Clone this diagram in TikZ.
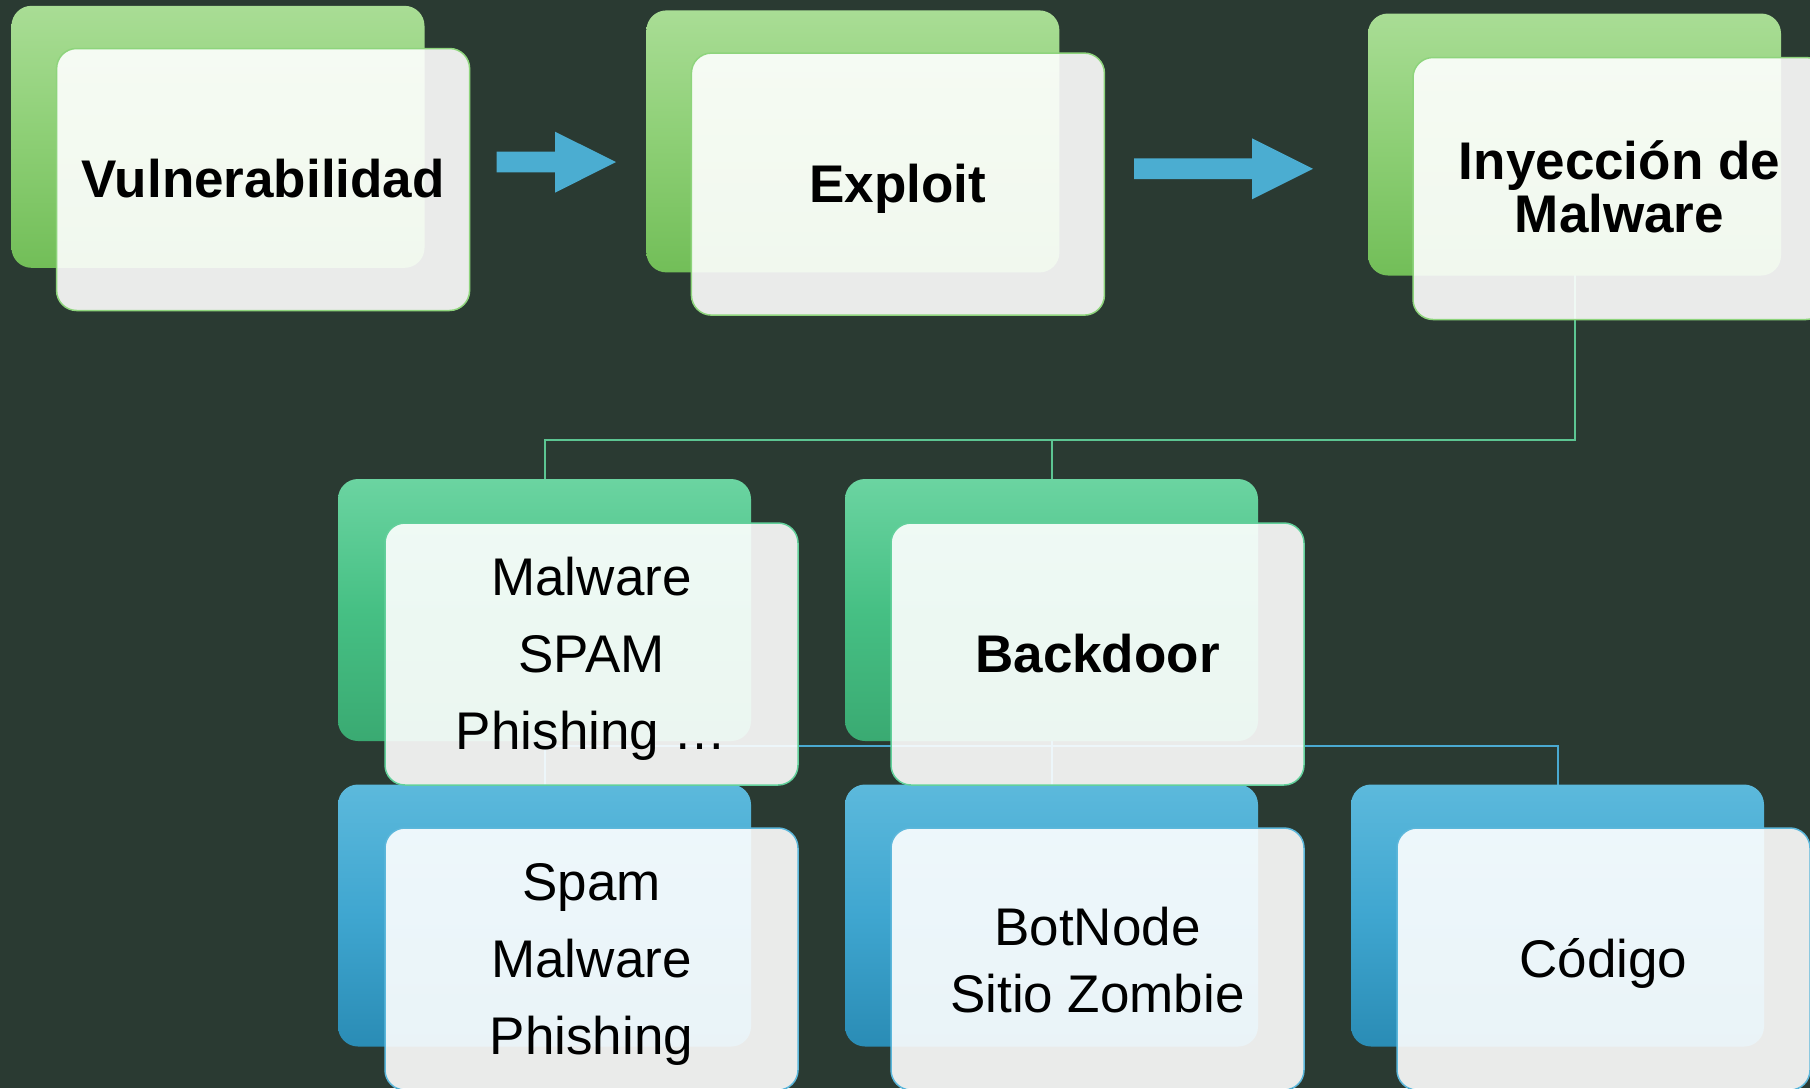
\documentclass[tikz,border=0pt]{standalone}
\usepackage{fontspec}
\setmainfont{Liberation Sans}
\definecolor{bgc}{HTML}{2A3A32}
\definecolor{gatop}{HTML}{A9DD95}
\definecolor{gamid}{HTML}{8DCF75}
\definecolor{gabot}{HTML}{72BE58}
\definecolor{gbtop}{HTML}{6BD4A1}
\definecolor{gbmid}{HTML}{46C084}
\definecolor{gbbot}{HTML}{3AAA72}
\definecolor{bctop}{HTML}{5CB9DC}
\definecolor{bcmid}{HTML}{3FA6D0}
\definecolor{bcbot}{HTML}{2A8CB5}
\definecolor{bordera}{HTML}{8ED47C}
\definecolor{borderb}{HTML}{62D09B}
\definecolor{borderc}{HTML}{5CB7DB}
\definecolor{glinec}{HTML}{5CC592}
\definecolor{blinec}{HTML}{4AA9D1}
\definecolor{arrowc}{HTML}{4BADD1}
\pgfdeclarelayer{backdrop}
\pgfdeclarelayer{wires}
\pgfsetlayers{backdrop,wires,main}
\begin{document}
\begin{tikzpicture}[x=1pt,y=-1pt,
  backbox/.style={rounded corners=20pt, minimum width=413pt, minimum height=262pt, inner sep=0pt, outer sep=0pt},
  backga/.style={backbox, top color=gatop, bottom color=gabot, middle color=gamid},
  backgb/.style={backbox, top color=gbtop, bottom color=gbbot, middle color=gbmid},
  backbc/.style={backbox, top color=bctop, bottom color=bcbot, middle color=bcmid},
  frontbox/.style={rounded corners=20pt, minimum width=413pt, minimum height=262pt, inner sep=0pt, outer sep=0pt, fill=white, fill opacity=0.9, draw opacity=1, line width=1.5pt},
  lbl/.style={anchor=base, inner sep=0pt, text=black, font=\fontsize{53}{60}\selectfont},
  lblb/.style={lbl, font=\fontsize{53}{60}\selectfont\bfseries},
  gline/.style={draw=glinec, line width=2pt},
  bline/.style={draw=blinec, line width=2pt},
  blockarrow/.style={fill=arrowc}
]
\useasboundingbox (0,0) rectangle (1810,1088);
\clip (0,0) rectangle (1810,1088);
\begin{pgfonlayer}{backdrop}
\fill[bgc] (0,0) rectangle (1810,1088);
\end{pgfonlayer}

% bus levels
\coordinate (gbus) at (0,440);
\coordinate (bbus) at (0,746);

% back boxes
\node[backga] (vb) at (218,136.8) {};
\node[backga] (eb) at (852.9,141.4) {};
\node[backga] (ib) at (1574.5,144.5) {};
\node[backgb] (mb) at (544.5,610) {};
\node[backgb] (kb) at (1051.5,610) {};
\node[backbc] (sb) at (544.5,915.5) {};
\node[backbc] (bb) at (1051.5,915.5) {};
\node[backbc] (cb) at (1557.5,915.5) {};

% connectors, behind the boxes
\begin{pgfonlayer}{wires}
\draw[gline] (ib.center) -- (ib.center |- gbus) -- (mb.north |- gbus) -- (mb.north);
\draw[gline] (kb.north |- gbus) -- (kb.north);
\draw[bline] (kb.center) -- (kb.center |- bbus);
\draw[bline] (sb.north |- bbus) -- (cb.north |- bbus) -- (cb.north);
\draw[bline] (sb.north |- bbus) -- (sb.north);
\draw[bline] (bb.north |- bbus) -- (bb.north);
\end{pgfonlayer}

% front boxes
\node[frontbox, draw=bordera] (vf) at (263.1,179.5) {};
\node[frontbox, draw=bordera] (ef) at (897.9,184.1) {};
\node[frontbox, draw=bordera] (if) at (1619.5,188.5) {};
\node[frontbox, draw=borderb] (mf) at (591.5,654) {};
\node[frontbox, draw=borderb] (kf) at (1097.5,654) {};
\node[frontbox, draw=borderc] (sf) at (591.5,959) {};
\node[frontbox, draw=borderc] (bf) at (1097.5,959) {};
\node[frontbox, draw=borderc] (cf) at (1603.5,959) {};

% labels
\node[lblb] (tv) at (263.1,197) {Vulnerabilidad};
\node[lblb] (te) at (897.9,202.5) {Exploit};
\node[lblb] (tia) at (1619.5,179) {Inyección de};
\node[lblb] (tib) at (1619.5,232) {Malware};
\node[lbl] (tma) at (591.5,595.5) {Malware};
\node[lbl] (tmb) at (591.5,672.5) {SPAM};
\node[lbl] (tmc) at (591.5,749.5) {Phishing …};
\node[lblb] (tk) at (1097.5,672.5) {Backdoor};
\node[lbl] (tsa) at (591.5,900.5) {Spam};
\node[lbl] (tsb) at (591.5,977.5) {Malware};
\node[lbl] (tsc) at (591.5,1054.5) {Phishing};
\node[lbl] (tba) at (1097.5,945) {BotNode};
\node[lbl] (tbb) at (1097.5,1012) {Sitio Zombie};
\node[lbl] (tc) at (1603.5,977.5) {Código};

% block arrows
\fill[blockarrow] (496.5,151.7) -- (555,151.7) -- (555,131.7) -- (616,162) -- (555,192.7) -- (555,172.3) -- (496.5,172.3) -- cycle;
\fill[blockarrow] (1134,158.3) -- (1252,158.3) -- (1252,138.3) -- (1313,168.8) -- (1252,199.3) -- (1252,179) -- (1134,179) -- cycle;
\end{tikzpicture}
\end{document}
